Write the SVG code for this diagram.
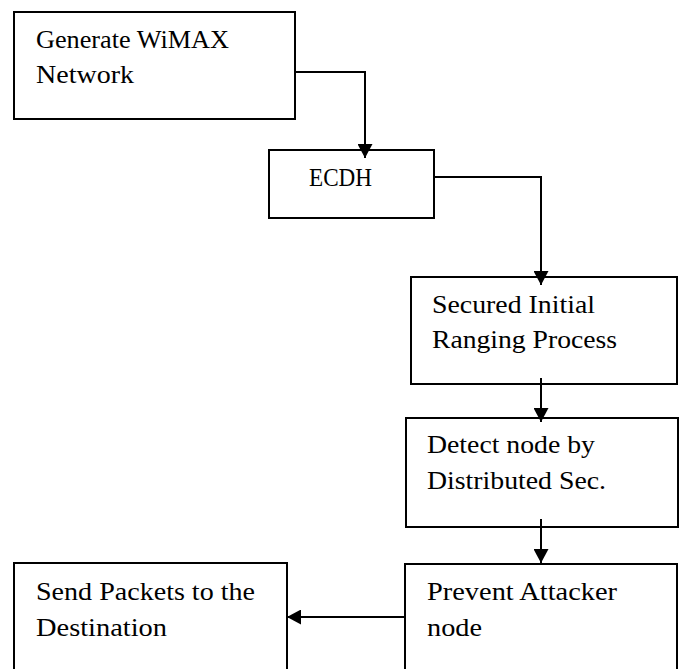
<svg xmlns="http://www.w3.org/2000/svg" width="683" height="669" viewBox="0 0 683 669">
<defs>
<style>
.box{fill:#fff;stroke:#000;stroke-width:2}
.lbl{font-family:"Liberation Serif","Times New Roman",serif;font-size:25px;fill:#000}
.conn{fill:none;stroke:#000;stroke-width:2}
</style>
<marker id="arr" markerUnits="userSpaceOnUse" markerWidth="15" markerHeight="15" refX="14" refY="7.5" orient="auto">
<path d="M0,0 L14,7.5 L0,15 z" fill="#000"/>
</marker>
</defs>
<rect width="683" height="669" fill="#fff"/>
<g id="n1">
<rect class="box" x="14" y="12" width="281" height="107"/>
<text class="lbl" x="36" y="48" textLength="193" lengthAdjust="spacingAndGlyphs">Generate WiMAX</text>
<text class="lbl" x="36" y="83" textLength="98" lengthAdjust="spacingAndGlyphs">Network</text>
</g>
<g id="n2">
<rect class="box" x="269" y="150" width="165" height="68"/>
<text class="lbl" x="309" y="186" textLength="63" lengthAdjust="spacingAndGlyphs">ECDH</text>
</g>
<g id="n3">
<rect class="box" x="411" y="277" width="266" height="107"/>
<text class="lbl" x="432" y="313" textLength="163" lengthAdjust="spacingAndGlyphs">Secured Initial</text>
<text class="lbl" x="432" y="348" textLength="185" lengthAdjust="spacingAndGlyphs">Ranging Process</text>
</g>
<g id="n4">
<rect class="box" x="406" y="418" width="272" height="109"/>
<text class="lbl" x="427" y="453" textLength="168" lengthAdjust="spacingAndGlyphs">Detect node by</text>
<text class="lbl" x="427" y="489" textLength="179" lengthAdjust="spacingAndGlyphs">Distributed Sec.</text>
</g>
<g id="n5">
<rect class="box" x="405" y="564" width="272" height="120"/>
<text class="lbl" x="427" y="600" textLength="190" lengthAdjust="spacingAndGlyphs">Prevent Attacker</text>
<text class="lbl" x="427" y="636" textLength="55" lengthAdjust="spacingAndGlyphs">node</text>
</g>
<g id="n6">
<rect class="box" x="14" y="563" width="273" height="121"/>
<text class="lbl" x="36" y="600" textLength="219" lengthAdjust="spacingAndGlyphs">Send Packets to the</text>
<text class="lbl" x="36" y="636" textLength="131" lengthAdjust="spacingAndGlyphs">Destination</text>
</g>
<g id="connectors">
<path class="conn" d="M295,72 H365 V158" marker-end="url(#arr)"/>
<path class="conn" d="M434,177 H541 V285" marker-end="url(#arr)"/>
<path class="conn" d="M541,378 V422" marker-end="url(#arr)"/>
<path class="conn" d="M541,519 V563" marker-end="url(#arr)"/>
<path class="conn" d="M405,617 H287" marker-end="url(#arr)"/>
</g>
</svg>
